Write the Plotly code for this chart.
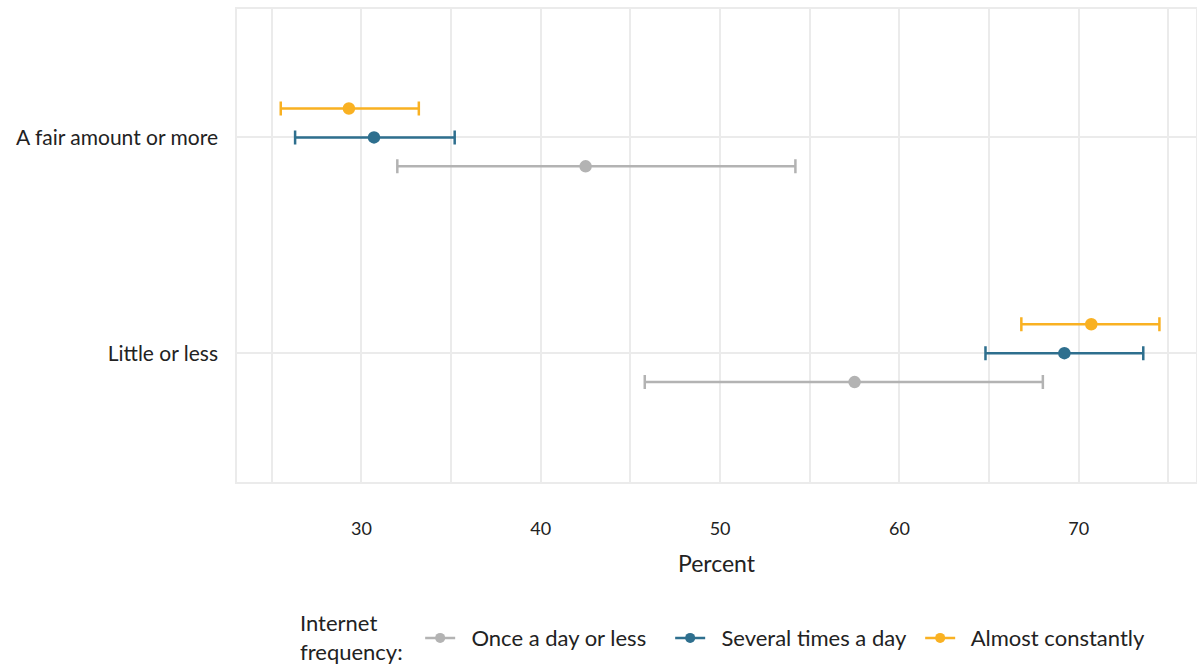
import plotly.graph_objects as go

categories = ["A fair amount or more", "Little or less"]
series = ["Once a day or less", "Several times a day", "Almost constantly"]
colors = ["#B3B3B3", "#2E6F8E", "#F9B122"]

# point estimates and confidence bounds per series, per category
est = {
    "Once a day or less": [42.5, 57.5],
    "Several times a day": [30.7, 69.2],
    "Almost constantly": [29.3, 70.7],
}
low = {
    "Once a day or less": [32.0, 45.8],
    "Several times a day": [26.3, 64.8],
    "Almost constantly": [25.5, 66.8],
}
high = {
    "Once a day or less": [54.2, 68.0],
    "Several times a day": [35.2, 73.6],
    "Almost constantly": [33.2, 74.5],
}

cat_pos = [2, 1]
dodge = {"Once a day or less": -0.134, "Several times a day": 0.0, "Almost constantly": 0.134}

FONT = "Lato"
TXT = "#222222"
NB = "\u00a0\u00a0"

fig = go.Figure()
for s, c in zip(series, colors):
    ys = [p + dodge[s] for p in cat_pos]
    fig.add_trace(go.Scatter(
        x=est[s], y=ys, mode="markers",
        marker=dict(color=c, size=12.5),
        error_x=dict(type="data", symmetric=False,
                     array=[h - e for h, e in zip(high[s], est[s])],
                     arrayminus=[e - l for e, l in zip(est[s], low[s])],
                     color=c, thickness=2.5, width=7),
        showlegend=False, name=s,
    ))
for s, c in zip(series, colors):
    fig.add_trace(go.Scatter(
        x=[None], y=[None], mode="lines+markers", name=NB + s,
        line=dict(color=c, width=2.5), marker=dict(color=c, size=10),
    ))

fig.add_annotation(
    text="Internet<br>frequency:", xref="paper", yref="paper",
    x=0.0636, y=-0.328, xanchor="left", yanchor="middle", align="left",
    showarrow=False, font=dict(size=22, color=TXT),
)

fig.update_layout(
    width=1197, height=669,
    margin=dict(l=237, r=1, t=9, b=187, autoexpand=False),
    plot_bgcolor="white", paper_bgcolor="white",
    font=dict(family=FONT, color=TXT, size=16),
    xaxis=dict(range=[23.06, 76.54], tickvals=[30, 40, 50, 60, 70],
               showgrid=True, gridcolor="#EBEBEB", gridwidth=1.5,
               minor=dict(tickvals=[25, 35, 45, 55, 65, 75], showgrid=True,
                          gridcolor="#EBEBEB", gridwidth=1.5),
               zeroline=False, showline=True, mirror=True, linecolor="#EBEBEB", linewidth=1.5,
               ticks="", ticklabelstandoff=30, automargin=False,
               tickfont=dict(size=18, color=TXT),
               title=dict(text="Percent", font=dict(size=23, color=TXT), standoff=18)),
    yaxis=dict(range=[0.403, 2.595], tickvals=cat_pos, ticktext=categories,
               showgrid=True, gridcolor="#EBEBEB", gridwidth=2,
               zeroline=False, showline=True, mirror=True, linecolor="#EBEBEB", linewidth=1.5,
               ticks="", ticklabelstandoff=13, automargin=False,
               tickfont=dict(size=21, color=TXT)),
    legend=dict(orientation="h", x=0.191, xanchor="left", y=-0.330, yanchor="middle",
                font=dict(size=22, color=TXT), valign="middle",
                itemwidth=30, entrywidth=205),
)

fig.write_html("out.html", config={"displayModeBar": False},
               post_script="document.body.style.margin='0';document.body.style.overflow='hidden';")
